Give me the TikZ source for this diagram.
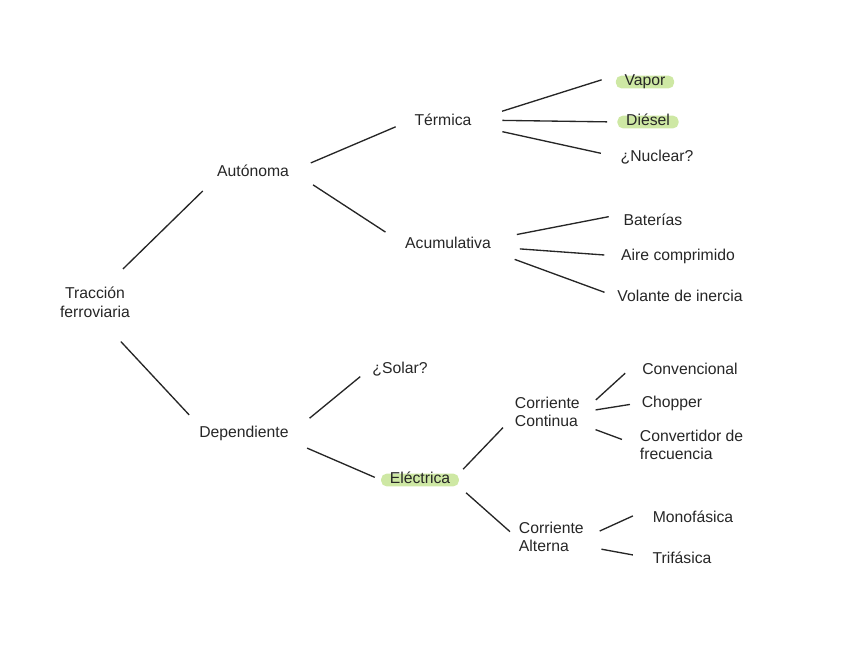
\documentclass[tikz,border=0pt]{standalone}
\usepackage{fontspec}
\setmainfont{Liberation Sans}
\definecolor{ink}{RGB}{38,38,38}
\definecolor{hl}{RGB}{206,232,164}

\begin{document}
\begin{tikzpicture}[x=0.75pt,y=-0.75pt,font=\fontsize{11.8pt}{14pt}\selectfont,text=ink]
   \tikzstyle{item}=[inner sep=2pt]
   \tikzstyle{pair}=[item,align=left,anchor=west]
   \tikzstyle{hilite}=[fill=hl,rounded corners=4pt,inner xsep=6.5pt,inner ysep=1.5pt,text height=6pt,text depth=0.5pt]
   \tikzstyle{link}=[draw=ink,line width=1pt]
   \useasboundingbox (0,0) rectangle (848,656);
   % tree
   \node (tracc) [item,align=center] at (95,302) {Tracción\\ferroviaria} ;
   \node (auto) [item] at (253,171) {Autónoma} ;
   \node (dep) [item] at (244,433) {Dependiente} ;
   \node (term) [item] at (443,120) {Térmica} ;
   \node (acum) [item] at (448,243) {Acumulativa} ;
   \node (vapor) [hilite] at (645,82) {Vapor} ;
   \node (diesel) [hilite] at (648,122) {Diésel} ;
   \node (nuclear) [item] at (657,157) {¿Nuclear?} ;
   \node (bat) [item] at (653,220) {Baterías} ;
   \node (aire) [item] at (678,256) {Aire comprimido} ;
   \node (vol) [item] at (680,296) {Volante de inercia} ;
   \node (solar) [item] at (400,369) {¿Solar?} ;
   \node (elec) [hilite] at (420,480) {Eléctrica} ;
   \node (cc) [pair] at (512,412) {Corriente\\Continua} ;
   \node (ca) [pair] at (516,537) {Corriente\\Alterna} ;
   \node (conv) [item] at (690,369) {Convencional} ;
   \node (chop) [item] at (672,403) {Chopper} ;
   \node (frec) [pair] at (637,445) {Convertidor de\\frecuencia} ;
   \node (mono) [item] at (693,517) {Monofásica} ;
   \node (tri) [item] at (682,558) {Trifásica} ;
   % connectors
   \path [link,shorten <=16pt,shorten >=12pt] (tracc.55) -- (auto.south west) ;
   \path [link,shorten <=22pt,shorten >=8pt] (tracc.-72) -- (dep.north west) ;
   \path [link,shorten <=15.5pt,shorten >=13pt] (auto.east) -- (term.west) ;
   \path [link,shorten <=19pt,shorten >=15pt] (auto.east) -- (acum.west) ;
   \path [link,shorten <=21.8pt,shorten >=11pt] (term.east) -- (vapor.north west) ;
   \path [link,shorten <=21pt,shorten >=7.5pt] (term.east) -- (diesel.west) ;
   \path [link,shorten <=21.5pt,shorten >=13pt] (term.-10) -- (nuclear.west) ;
   \path [link,shorten <=17.6pt,shorten >=9.2pt] (acum.5) -- (bat.170) ;
   \path [link,shorten <=19.6pt,shorten >=10.5pt] (acum.-5) -- (aire.west) ;
   \path [link,shorten <=16.7pt,shorten >=8pt] (acum.south east) -- (vol.west) ;
   \path [link,shorten <=17.5pt,shorten >=9pt] (dep.east) -- (solar.west) ;
   \path [link,shorten <=12.7pt,shorten >=5pt] (dep.-10) -- (elec.west) ;
   \path [link,shorten <=4.4pt,shorten >=9.8pt] (elec.north east) -- (cc.190) ;
   \path [link,shorten <=7pt,shorten >=6pt] (elec.south east) -- (ca.west) ;
   \path [link,shorten <=13.4pt,shorten >=14.4pt] (cc.east) -- (conv.north west) ;
   \path [link,shorten <=9.9pt,shorten >=6.8pt] (cc.east) -- (chop.west) ;
   \path [link,shorten <=10.4pt,shorten >=12pt] (cc.-20) -- (frec.west) ;
   \path [link,shorten <=10.8pt,shorten >=14pt] (ca.east) -- (mono.north west) ;
   \path [link,shorten <=11.3pt,shorten >=12.8pt] (ca.-15) -- (tri.west) ;
\end{tikzpicture}
\end{document}
